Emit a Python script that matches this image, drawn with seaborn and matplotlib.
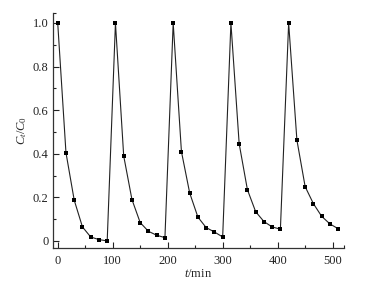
import numpy as np
import pandas as pd
import matplotlib
matplotlib.use("Agg")
import matplotlib.pyplot as plt
import seaborn as sns
from matplotlib.ticker import FixedLocator, FuncFormatter

# Data (t in min, Ct/C0)
time_min = [0, 15, 30, 45, 60, 75, 90,
            105, 120, 135, 150, 165, 180, 195,
            210, 225, 240, 255, 270, 285, 300,
            315, 330, 345, 360, 375, 390, 405,
            420, 435, 450, 465, 480, 495, 510]
ct_c0 = [1.0, 0.405, 0.187, 0.064, 0.018, 0.006, 0.0,
         1.0, 0.39, 0.19, 0.084, 0.044, 0.026, 0.015,
         1.0, 0.41, 0.22, 0.109, 0.061, 0.041, 0.018,
         1.0, 0.446, 0.235, 0.134, 0.089, 0.064, 0.054,
         1.0, 0.463, 0.249, 0.171, 0.113, 0.078, 0.056]
x_ticks = [0, 100, 200, 300, 400, 500]
y_ticks = [0, 0.2, 0.4, 0.6, 0.8, 1.0]

df = pd.DataFrame({"t": time_min, "c": ct_c0})

sns.set_style("ticks")
plt.rcParams["font.family"] = ["Liberation Serif", "DejaVu Serif"]
plt.rcParams["mathtext.fontset"] = "custom"
plt.rcParams["mathtext.it"] = "Liberation Serif:italic"
plt.rcParams["mathtext.rm"] = "Liberation Serif"

fig = plt.figure(figsize=(3.69, 2.82), dpi=100)
ax = fig.add_axes([0.143, 0.121, 0.789, 0.833])

sns.lineplot(data=df, x="t", y="c", ax=ax, color="#222222", linewidth=0.8,
             marker="s", markersize=3.4, markeredgewidth=0,
             markerfacecolor="black")

xmin, xmax = -9, 520.5
ymin, ymax = -0.032, 1.046
ax.set_xlim(xmin, xmax)
ax.set_ylim(ymin, ymax)
ax.set_xticks(x_ticks)
ax.set_yticks(y_ticks)
ax.xaxis.set_minor_locator(FixedLocator([50, 150, 250, 350, 450, xmax]))
ax.yaxis.set_minor_locator(FixedLocator([0.1, 0.3, 0.5, 0.7, 0.9, ymax]))
ax.yaxis.set_major_formatter(FuncFormatter(lambda v, p: "0" if abs(v) < 1e-9 else f"{v:.1f}"))

ax.tick_params(which="major", direction="in", length=4, width=0.8, labelsize=9,
               colors="#222222", pad=3)
ax.tick_params(which="minor", direction="in", length=2.4, width=0.8, colors="#222222")
ax.tick_params(axis="x", which="major", pad=5)

for s in ["top", "right"]:
    ax.spines[s].set_visible(False)
for s in ["left", "bottom"]:
    ax.spines[s].set_linewidth(0.9)
    ax.spines[s].set_color("#333333")

ax.set_xlabel(r"$t$/min", fontsize=9, labelpad=1)
ax.set_ylabel(r"$C_t/C_0$", fontsize=9)
ax.yaxis.set_label_coords(-0.082, 0.5)

fig.savefig("out.png", dpi=100)
